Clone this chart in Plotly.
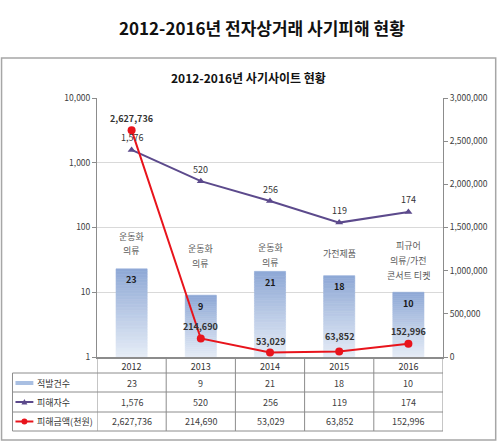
import math
import plotly.graph_objects as go

# ---------------- data ----------------
years = ["2012", "2013", "2014", "2015", "2016"]
cases = [23, 9, 21, 18, 10]                      # 적발건수 (bars, left log axis)
victims = [1576, 520, 256, 119, 174]             # 피해자수 (purple line, left log axis)
damage = [2627736, 214690, 53029, 63852, 152996] # 피해금액(천원) (red line, right axis)
site_types = [["운동화", "의류"], ["운동화", "의류"], ["운동화", "의류"],
              ["가전제품"], ["피규어", "의류/가전", "콘서트 티켓"]]
left_ticks = [1, 10, 100, 1000, 10000]
right_ticks = [0, 500000, 1000000, 1500000, 2000000, 2500000, 3000000]
row_labels = ["적발건수", "피해자수", "피해금액(천원)"]
main_title = "2012-2016년 전자상거래 사기피해 현황"
sub_title = "2012-2016년 사기사이트 현황"

# ---------------- layout geometry (pixels) ----------------
W, H = 500, 442
L, R, T, B = 97, 445, 98, 357
FONT = "Noto Sans CJK KR"
PURPLE = "#5c4a8c"
RED = "#e8141c"
GRAY = "#404040"
LINE = "#8c8c8c"


def xp(px):
    return (px - L) / (R - L)


def yp(py):
    return (B - py) / (B - T)


def lerp_color(c1, c2, t):
    a = [int(c1[i:i + 2], 16) for i in (1, 3, 5)]
    b = [int(c2[i:i + 2], 16) for i in (1, 3, 5)]
    return "#%02x%02x%02x" % tuple(round(a[k] + (b[k] - a[k]) * t) for k in range(3))


fig = go.Figure()

# gradient bars: stacked slices in log space
N = 32
bottom_c, top_c = "#e6edf7", "#8ea8d5"
for i in range(N):
    bases, lens = [], []
    for v in cases:
        lv = math.log10(v)
        a = 10 ** (lv * i / N)
        b = 10 ** (lv * (i + 1) / N)
        bases.append(a)
        lens.append(b - a)
    col = lerp_color(bottom_c, top_c, (i + 0.5) / N)
    fig.add_trace(go.Bar(
        x=years, y=lens, base=bases, width=0.45,
        marker=dict(color=col, line=dict(width=0.6, color=col)),
        yaxis="y", showlegend=False, hoverinfo="skip"))

fig.add_trace(go.Scatter(
    x=years, y=victims, mode="lines+markers", yaxis="y",
    line=dict(color=PURPLE, width=2),
    marker=dict(symbol="triangle-up", size=7, color=PURPLE),
    showlegend=False))

fig.add_trace(go.Scatter(
    x=years, y=damage, mode="lines+markers", yaxis="y2",
    line=dict(color=RED, width=2),
    marker=dict(symbol="circle", size=8, color=RED),
    showlegend=False))

ann = []
shapes = []
MID = dict(xanchor="center", yanchor="middle", showarrow=False)

# titles
ann.append(dict(text=f"<b>{main_title}</b>", x=xp(263), y=yp(27), xref="paper", yref="paper",
                font=dict(family=FONT, size=17, color="#111111"), **MID))
ann.append(dict(text=f"<b>{sub_title}</b>", x=xp(249), y=yp(78), xref="paper", yref="paper",
                font=dict(family=FONT, size=12, color="#111111"), **MID))

# bar value labels
for k, v in enumerate(cases):
    ann.append(dict(text=f"<b>{v}</b>", x=k, y=math.log10(v), xref="x", yref="y",
                    yshift=-11, font=dict(family=FONT, size=9, color="#1a1a1a"), **MID))

# victims labels
for k, v in enumerate(victims):
    ann.append(dict(text=f"{v:,}", x=k, y=math.log10(v), xref="x", yref="y",
                    yshift=12, font=dict(family=FONT, size=9, color="#333333"), **MID))

# damage labels
dmg_shift = [12, 12, 11, 15, 12]
for k, v in enumerate(damage):
    ann.append(dict(text=f"<b>{v:,}</b>", x=k, y=v, xref="x", yref="y2",
                    yshift=dmg_shift[k], font=dict(family=FONT, size=9, color="#333333"), **MID))

# site type labels (top line pixel positions)
site_top = [236, 248, 247, 253, 245]
for k, lines in enumerate(site_types):
    for j, t in enumerate(lines):
        ann.append(dict(text=t, x=k, y=yp(site_top[k] + 15 * j), xref="x", yref="paper",
                        font=dict(family=FONT, size=9, color="#595959"), **MID))

# ---------------- data table ----------------
row_y = [383, 402, 421.5]
tbl_top, tbl_lines, tbl_bot = 373, [373, 392, 412, 431], 431
for py in tbl_lines:
    shapes.append(dict(type="line", xref="paper", yref="paper", x0=xp(12), x1=xp(R),
                       y0=yp(py), y1=yp(py), line=dict(color=LINE, width=1)))
shapes.append(dict(type="line", xref="paper", yref="paper", x0=xp(12), x1=xp(12),
                   y0=yp(tbl_top), y1=yp(tbl_bot), line=dict(color=LINE, width=1)))
for b in [-0.5, 0.5, 1.5, 2.5, 3.5, 4.5]:
    shapes.append(dict(type="line", xref="x", yref="paper", x0=b, x1=b,
                       y0=yp(B), y1=yp(tbl_bot), line=dict(color=LINE, width=1)))

table_rows = [cases, victims, damage]
for ry, vals in zip(row_y, table_rows):
    for k, v in enumerate(vals):
        ann.append(dict(text=f"{v:,}", x=k, y=yp(ry), xref="x", yref="paper",
                        font=dict(family=FONT, size=9, color=GRAY), **MID))
for ry, lab in zip(row_y, row_labels):
    ann.append(dict(text=lab, x=xp(35), y=yp(ry), xref="paper", yref="paper", xanchor="left",
                    yanchor="middle", showarrow=False,
                    font=dict(family=FONT, size=9, color="#333333")))

# legend keys inside table
shapes.append(dict(type="rect", xref="paper", yref="paper", x0=xp(15), x1=xp(33),
                   y0=yp(row_y[0] - 2), y1=yp(row_y[0] + 2), line=dict(width=0),
                   fillcolor="#a9bfe2"))
shapes.append(dict(type="line", xref="paper", yref="paper", x0=xp(15), x1=xp(33),
                   y0=yp(row_y[1]), y1=yp(row_y[1]), line=dict(color=PURPLE, width=2)))
shapes.append(dict(type="path", xref="paper", yref="paper", fillcolor=PURPLE,
                   line=dict(width=0),
                   path=f"M {xp(21)} {yp(row_y[1] + 2.5)} L {xp(27)} {yp(row_y[1] + 2.5)} "
                        f"L {xp(24)} {yp(row_y[1] - 3)} Z"))
shapes.append(dict(type="line", xref="paper", yref="paper", x0=xp(15), x1=xp(33),
                   y0=yp(row_y[2]), y1=yp(row_y[2]), line=dict(color=RED, width=2)))
shapes.append(dict(type="circle", xref="paper", yref="paper", fillcolor=RED,
                   line=dict(width=0), x0=xp(21), x1=xp(27),
                   y0=yp(row_y[2] + 3), y1=yp(row_y[2] - 3)))

# outer frame
shapes.append(dict(type="rect", xref="paper", yref="paper", x0=xp(1), x1=xp(498),
                   y0=yp(440), y1=yp(58), line=dict(color="#a6a6a6", width=1.5),
                   layer="below"))

fig.update_layout(
    width=W, height=H,
    margin=dict(l=L, r=W - R, t=T, b=H - B, pad=0),
    paper_bgcolor="white", plot_bgcolor="white",
    barmode="overlay", showlegend=False,
    font=dict(family=FONT, size=9, color=GRAY),
    xaxis=dict(type="category", showgrid=False, showline=True, linecolor=LINE, linewidth=1.5,
               ticks="", tickfont=dict(family=FONT, size=9, color="#333333"),
               range=[-0.5, 4.5], fixedrange=True),
    yaxis=dict(type="log", range=[0, 4], tickvals=left_ticks,
               ticktext=[f"{v:,}" for v in left_ticks],
               showgrid=True, gridcolor="#d9d9d9", gridwidth=1,
               showline=True, linecolor=LINE, linewidth=1,
               ticks="outside", ticklen=4, tickcolor=LINE,
               tickfont=dict(family=FONT, size=8.5, color=GRAY), zeroline=False),
    yaxis2=dict(overlaying="y", side="right", range=[0, 3000000], tickvals=right_ticks,
                ticktext=[f"{v:,}" for v in right_ticks],
                showgrid=False, showline=True, linecolor=LINE, linewidth=1,
                ticks="outside", ticklen=4, tickcolor=LINE,
                tickfont=dict(family=FONT, size=8.5, color=GRAY), zeroline=False),
    annotations=ann, shapes=shapes,
)

fig.write_html("out.html", post_script="document.body.style.margin='0';",
               config={"displayModeBar": False})
